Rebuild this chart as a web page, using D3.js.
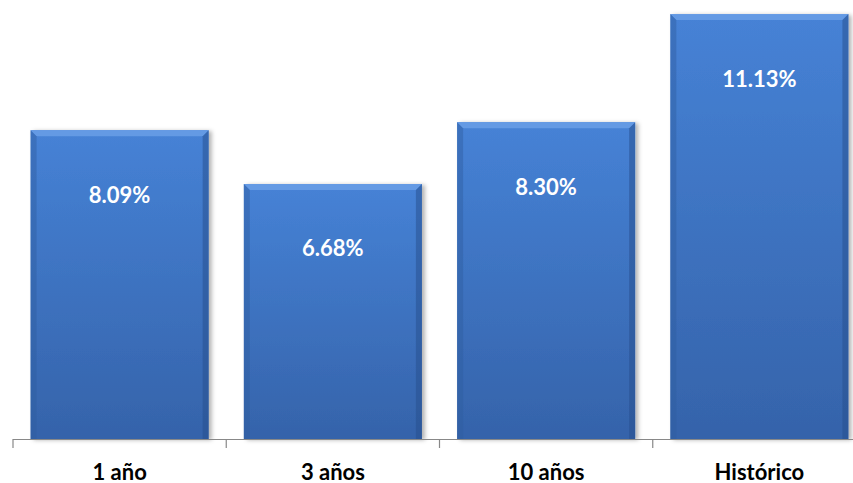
<!DOCTYPE html>
<html>
<head>
<meta charset="utf-8">
<script src="https://cdn.jsdelivr.net/npm/d3@7"></script>
<style>
  html, body { margin: 0; padding: 0; background: #fff; }
  svg { display: block; }
</style>
</head>
<body>
<div id="chart"></div>
<script>
// Chart data
const categories = ["1 año", "3 años", "10 años", "Histórico"];
const values = [8.09, 6.68, 8.30, 11.13];
const valueLabels = ["8.09%", "6.68%", "8.30%", "11.13%"];

const width = 853;
const height = 483;
const baseline = 439;

const svg = d3.select("#chart").append("svg")
  .attr("width", width)
  .attr("height", height)

const defs = svg.append("defs");

// Vertical gradient for bar faces
const grad = defs.append("linearGradient")
  .attr("id", "barGrad")
  .attr("x1", 0).attr("y1", 0).attr("x2", 0).attr("y2", 1)
grad.append("stop").attr("offset", "0%").attr("stop-color", "#4682d6")
grad.append("stop").attr("offset", "100%").attr("stop-color", "#3563aa")

// Soft shadow to the right
const shadow = defs.append("filter")
  .attr("id", "shadow")
  .attr("x", "-10%").attr("y", "-10%").attr("width", "130%").attr("height", "130%")
shadow.append("feDropShadow")
  .attr("dx", 3).attr("dy", 1).attr("stdDeviation", 2)
  .attr("flood-color", "#000").attr("flood-opacity", 0.3)

// Scales
const x = d3.scaleBand()
  .domain(categories)
  .range([13, 13 + 213.25 * categories.length])
  .paddingInner(0.165)
  .paddingOuter(0.0825)

const y = d3.scaleLinear()
  .domain([0, 11.5])
  .range([baseline, 0])

// Bars
const bar = svg.selectAll("g.bar")
  .data(values)
  .enter()
  .append("g")
  .attr("class", "bar")

bar.append("rect")
  .attr("x", (d, i) => x(categories[i]))
  .attr("y", d => y(d))
  .attr("width", x.bandwidth())
  .attr("height", d => baseline - y(d))
  .attr("fill", "url(#barGrad)")
  .attr("filter", "url(#shadow)")

// Bevel edges
const bev = 6;
function pts(arr) { return arr.map(p => p.join(",")).join(" ") }

bar.append("polygon")
  .attr("points", (d, i) => {
    const x0 = x(categories[i]), x1 = x0 + x.bandwidth(), t = y(d);
    return pts([[x0, t], [x1, t], [x1 - bev, t + bev], [x0 + bev, t + bev]])
  })
  .attr("fill", "#6a9fe6")
  .attr("opacity", 0.85)

bar.append("polygon")
  .attr("points", (d, i) => {
    const x0 = x(categories[i]), t = y(d);
    return pts([[x0, t], [x0 + bev, t + bev], [x0 + bev, baseline], [x0, baseline]])
  })
  .attr("fill", "#2f5d9f")
  .attr("opacity", 0.45)

bar.append("polygon")
  .attr("points", (d, i) => {
    const x1 = x(categories[i]) + x.bandwidth(), t = y(d);
    return pts([[x1, t], [x1 - bev, t + bev], [x1 - bev, baseline], [x1, baseline]])
  })
  .attr("fill", "#254e8c")
  .attr("opacity", 0.5)

// Value labels inside bars
bar.append("text")
  .attr("x", (d, i) => x(categories[i]) + x.bandwidth() / 2)
  .attr("y", d => y(d) + 64)
  .attr("text-anchor", "middle")
  .attr("dominant-baseline", "central")
  .style("fill", "#ffffff")
  .style("font-family", "Lato, 'Open Sans', sans-serif")
  .style("font-weight", "bold")
  .style("font-size", "22px")
  .text((d, i) => valueLabels[i])

// Category axis
svg.append("line")
  .attr("x1", 13).attr("x2", width)
  .attr("y1", baseline + 0.5).attr("y2", baseline + 0.5)
  .attr("stroke", "#888").attr("stroke-width", 1.2)

const tickPos = d3.range(categories.length + 1).map(i => 13 + 213.25 * i);
svg.selectAll("line.tick")
  .data(tickPos)
  .enter()
  .append("line")
  .attr("class", "tick")
  .attr("x1", d => d).attr("x2", d => d)
  .attr("y1", baseline).attr("y2", baseline + 9)
  .attr("stroke", "#888").attr("stroke-width", 1.2)

svg.selectAll("text.cat")
  .data(categories)
  .enter()
  .append("text")
  .attr("class", "cat")
  .attr("x", d => x(d) + x.bandwidth() / 2)
  .attr("y", 471)
  .attr("text-anchor", "middle")
  .attr("dominant-baseline", "central")
  .style("fill", "#000")
  .style("font-family", "Lato, 'Open Sans', sans-serif")
  .style("font-weight", "bold")
  .style("font-size", "22px")
  .text(d => d)
</script>
</body>
</html>
